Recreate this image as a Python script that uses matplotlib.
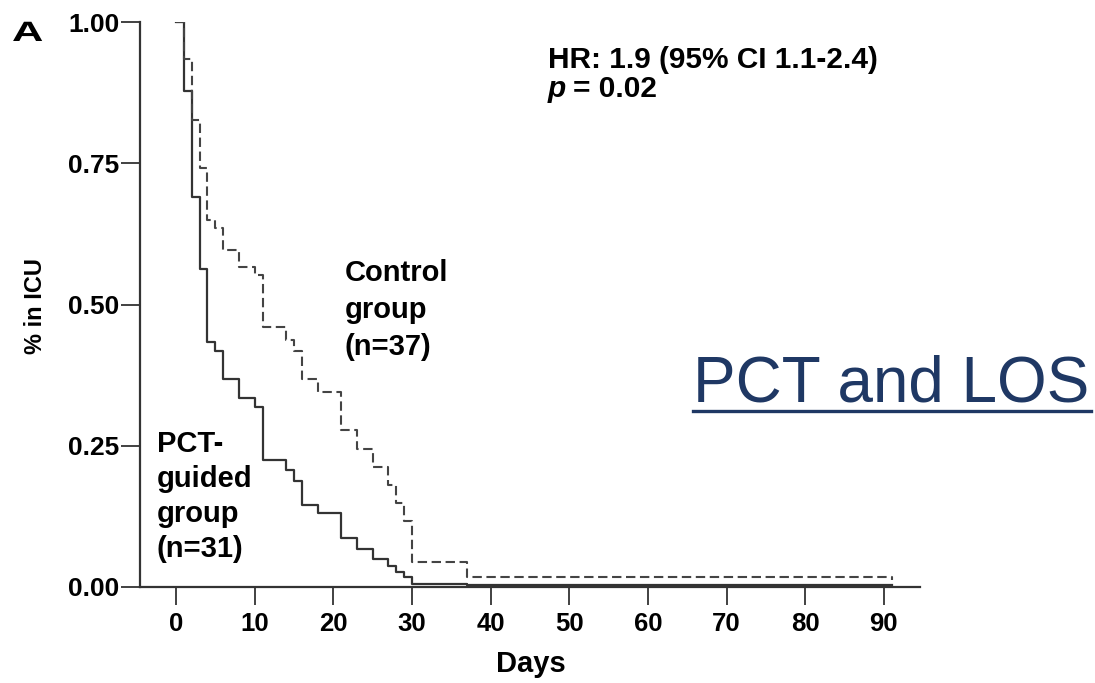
import matplotlib
matplotlib.use("Agg")
import matplotlib.pyplot as plt
from matplotlib.textpath import TextPath
from matplotlib.patches import PathPatch
from matplotlib.font_manager import FontProperties
from matplotlib.transforms import Affine2D, IdentityTransform

# Kaplan-Meier style step data: fraction of patients still in ICU
days = [0, 1, 2, 3, 4, 5, 6, 8, 10, 11, 14, 15, 16, 18, 21, 23, 25, 27, 28, 29, 30, 37, 91]
pct_guided = [1.0, 0.878, 0.691, 0.563, 0.434, 0.418, 0.368, 0.335, 0.319, 0.224, 0.207,
              0.188, 0.146, 0.131, 0.086, 0.068, 0.050, 0.037, 0.027, 0.017, 0.006, 0.003, 0.003]
control = [1.0, 0.934, 0.827, 0.741, 0.650, 0.635, 0.596, 0.567, 0.552, 0.461, 0.438,
           0.418, 0.369, 0.346, 0.278, 0.245, 0.213, 0.181, 0.148, 0.116, 0.044, 0.018, 0.012]

x_ticks = [0, 10, 20, 30, 40, 50, 60, 70, 80, 90]
y_ticks = [0.0, 0.25, 0.50, 0.75, 1.0]
y_tick_labels = ["0.00", "0.25", "0.50", "0.75", "1.00"]

plt.rcParams["font.family"] = ["Liberation Sans", "DejaVu Sans"]
plt.rcParams["font.weight"] = "bold"

W, H = 1095, 683
fig = plt.figure(figsize=(W / 100, H / 100), dpi=100)


def fx(px):
    return px / W


def fy(py):
    return 1 - py / H


ax = fig.add_axes([fx(140), fy(587), (920 - 140) / W, (587 - 22) / H])
ax.set_xlim(-4.58, 94.6)
ax.set_ylim(0, 1)

ax.step(days, pct_guided, where="post", color="#333333", lw=1.6)
ax.step(days, control, where="post", color="#444444", lw=1.5, linestyle=(0, (4.5, 2.2)))

for side in ("top", "right"):
    ax.spines[side].set_visible(False)
for side in ("left", "bottom"):
    ax.spines[side].set_color("#333333")
    ax.spines[side].set_linewidth(1.6)

ax.set_xticks(x_ticks)
ax.set_xticklabels([str(t) for t in x_ticks])
ax.set_yticks(y_ticks)
ax.set_yticklabels(y_tick_labels)
ax.tick_params(axis="x", direction="out", length=13, width=1.3, color="#333333",
               labelsize=18.5, pad=5)
ax.tick_params(axis="y", direction="out", length=14, width=1.3, color="#333333",
               labelsize=19, pad=1)
for lab in ax.get_xticklabels() + ax.get_yticklabels():
    lab.set_fontweight("bold")

fig.text(fx(531), fy(672), "Days", ha="center", va="baseline", fontsize=21, fontweight="bold")
fig.text(fx(35), fy(306), "% in ICU", ha="center", va="center", rotation=90,
         fontsize=17, fontweight="bold")

# Hazard ratio annotation
fig.text(fx(548), fy(68), "HR: 1.9 (95% CI 1.1-2.4)", ha="left", va="baseline",
         fontsize=21.5, fontweight="bold")
fig.text(fx(548), fy(97), "p", ha="left", va="baseline", fontsize=21.5,
         fontweight="bold", fontstyle="italic")
fig.text(fx(573), fy(97), "= 0.02", ha="left", va="baseline", fontsize=21.5, fontweight="bold")

# Group labels
for i, line in enumerate(["Control", "group", "(n=37)"]):
    fig.text(fx(345), fy(281 + 37 * i), line, ha="left", va="baseline",
             fontsize=21, fontweight="bold")
for i, line in enumerate(["PCT-", "guided", "group", "(n=31)"]):
    fig.text(fx(157), fy(451.7 + 35 * i), line, ha="left", va="baseline",
             fontsize=21, fontweight="bold")

# Panel letter, drawn wide
fp = FontProperties(family="Liberation Sans", weight="bold")
tp = TextPath((0, 0), "A", size=28, prop=fp)
tr = Affine2D().scale(1.55, 1.0).translate(12, H - 41)
fig.patches.append(PathPatch(tp, transform=tr + IdentityTransform(), color="black",
                             lw=0, figure=fig))

# Slide title
fig.text(fx(693), fy(401), "PCT and LOS", ha="left", va="baseline", fontsize=46,
         fontweight="normal", color="#1F3864")
fig.add_artist(plt.Line2D([fx(693), fx(1091)], [fy(411.5), fy(411.5)],
                          color="#1F3864", lw=2.4, transform=fig.transFigure))

fig.savefig("out.png", dpi=100)
